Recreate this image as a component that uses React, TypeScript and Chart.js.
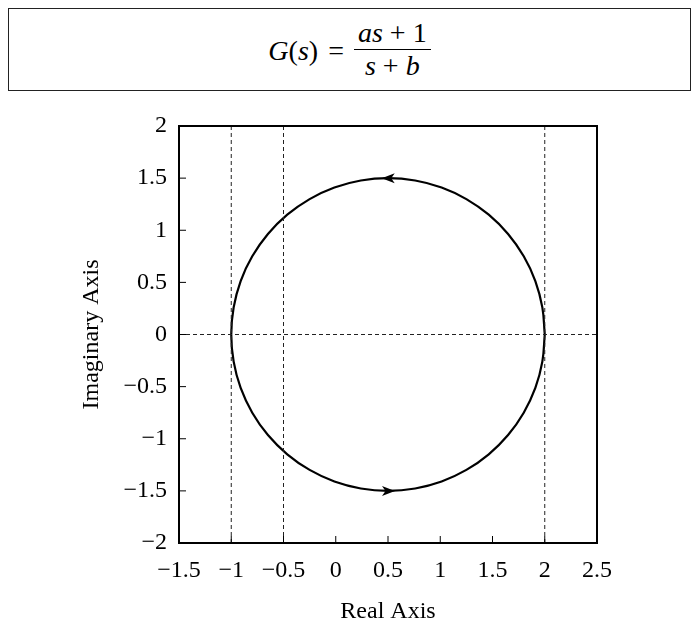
import React, { useEffect, useRef } from "react";
import { Chart, registerables } from "chart.js";
Chart.register(...registerables);

// Nyquist curve points (counter-clockwise from (2,0))
const circleX = [
  2.0, 1.977, 1.91, 1.799, 1.649, 1.464, 1.25, 1.013, 0.76, 0.5, 0.24, -0.013, -0.25, -0.464, -0.649, -0.799, -0.91, -0.977,
  -1.0, -0.977, -0.91, -0.799, -0.649, -0.464, -0.25, -0.013, 0.24, 0.5, 0.76, 1.013, 1.25, 1.464, 1.649, 1.799, 1.91, 1.977, 2.0,
];
const circleY = [
  0.0, 0.26, 0.513, 0.75, 0.964, 1.149, 1.299, 1.41, 1.477, 1.5, 1.477, 1.41, 1.299, 1.149, 0.964, 0.75, 0.513, 0.26,
  0.0, -0.26, -0.513, -0.75, -0.964, -1.149, -1.299, -1.41, -1.477, -1.5, -1.477, -1.41, -1.299, -1.149, -0.964, -0.75, -0.513, -0.26, 0.0,
];
const dashedVerticalX = [-1, -0.5, 2];
const dashedHorizontalY = [0];
const xTicks = [-1.5, -1, -0.5, 0, 0.5, 1, 1.5, 2, 2.5];
const yTicks = [-2, -1.5, -1, -0.5, 0, 0.5, 1, 1.5, 2];
const xRange = [-1.5, 2.5];
const yRange = [-2, 2];
const arrowX = [0.44, 0.567];
const arrowY = [1.5, -1.5];
const arrowDirection = [-1, 1];

const FONT = "'Liberation Serif', 'DejaVu Serif', serif";

const fmt = (v: number) => {
  const s = String(Math.abs(v));
  return v < 0 ? "\u2212" + s : s;
};

const framePlugin = {
  id: "frame",
  afterDatasetsDraw(chart: any) {
    const { ctx, chartArea: a, scales } = chart;
    ctx.save();
    ctx.strokeStyle = "#000";
    ctx.lineWidth = 1;
    // inward tick marks
    ctx.beginPath();
    xTicks.forEach((v) => {
      const px = scales.x.getPixelForValue(v);
      ctx.moveTo(px, a.bottom);
      ctx.lineTo(px, a.bottom - 7);
    });
    yTicks.forEach((v) => {
      const py = scales.y.getPixelForValue(v);
      ctx.moveTo(a.left, py);
      ctx.lineTo(a.left + 7, py);
    });
    ctx.stroke();
    // arrows
    ctx.fillStyle = "#000";
    arrowX.forEach((xv, i) => {
      const px = scales.x.getPixelForValue(xv);
      const py = scales.y.getPixelForValue(arrowY[i]);
      const d = arrowDirection[i];
      ctx.beginPath();
      ctx.moveTo(px, py);
      ctx.lineTo(px - d * 13, py - 5);
      ctx.lineTo(px - d * 9.5, py);
      ctx.lineTo(px - d * 13, py + 5);
      ctx.closePath();
      ctx.fill();
    });
    // frame
    ctx.lineWidth = 2;
    ctx.strokeRect(a.left, a.top, a.right - a.left, a.bottom - a.top);
    ctx.restore();
  },
};

export default function App() {
  const ref = useRef<HTMLCanvasElement>(null);
  useEffect(() => {
    if (!ref.current) return;
    const dashStyle = {
      borderColor: "#222",
      borderWidth: 1,
      borderDash: [4, 3],
      pointRadius: 0,
      showLine: true,
      fill: false,
    };
    const datasets: any[] = [];
    dashedVerticalX.forEach((xv) =>
      datasets.push({ ...dashStyle, data: [{ x: xv, y: yRange[0] }, { x: xv, y: yRange[1] }] })
    );
    dashedHorizontalY.forEach((yv) =>
      datasets.push({ ...dashStyle, data: [{ x: xRange[0], y: yv }, { x: xRange[1], y: yv }] })
    );
    datasets.push({
      data: circleX.map((x, i) => ({ x, y: circleY[i] })),
      borderColor: "#000",
      borderWidth: 2.2,
      pointRadius: 0,
      showLine: true,
      tension: 0.4,
      fill: false,
    });
    const chart = new Chart(ref.current, {
      type: "scatter",
      data: { datasets },
      plugins: [framePlugin],
      options: {
        animation: false,
        responsive: false,
        layout: { padding: { left: 0, right: 94, top: 35, bottom: 0 } },
        plugins: { legend: { display: false }, tooltip: { enabled: false } },
        scales: {
          x: {
            type: "linear",
            min: xRange[0],
            max: xRange[1],
            afterBuildTicks: (s: any) => {
              s.ticks = xTicks.map((v) => ({ value: v }));
            },
            afterFit: (s: any) => {
              s.height = 86;
            },
            grid: { display: false, drawTicks: false },
            border: { display: false },
            ticks: {
              color: "#000",
              font: { family: FONT, size: 24 },
              padding: 13,
              maxRotation: 0,
              autoSkip: false,
              callback: (v: any) => fmt(Number(v)),
            },
            title: {
              display: true,
              text: "Real Axis",
              color: "#000",
              font: { family: FONT, size: 24 },
              padding: { top: 0, bottom: 3 },
            },
          },
          y: {
            type: "linear",
            min: yRange[0],
            max: yRange[1],
            afterBuildTicks: (s: any) => {
              s.ticks = yTicks.map((v) => ({ value: v }));
            },
            afterFit: (s: any) => {
              s.width = 171;
            },
            grid: { display: false, drawTicks: false },
            border: { display: false },
            ticks: {
              color: "#000",
              font: { family: FONT, size: 24 },
              padding: 12,
              autoSkip: false,
              callback: (v: any) => fmt(Number(v)),
            },
            title: {
              display: true,
              text: "Imaginary Axis",
              color: "#000",
              font: { family: FONT, size: 24 },
              padding: { top: 69, bottom: 0 },
            },
          },
        },
      },
    });
    return () => chart.destroy();
  }, []);

  return (
    <div style={{ width: 683 }}>
      <div
        style={{
          boxSizing: "border-box",
          height: 83,
          border: "1.5px solid #222",
          display: "flex",
          alignItems: "center",
          justifyContent: "center",
          fontFamily: FONT,
          fontSize: 28,
          color: "#000",
        }}
      >
        <span style={{ whiteSpace: "pre", marginTop: 2 }}>
          <i>G</i>(<i>s</i>)
        </span>
        <span style={{ margin: "2px 10px 0 10px" }}>=</span>
        <span
          style={{
            display: "inline-flex",
            flexDirection: "column",
            alignItems: "center",
            lineHeight: "32px",
          }}
        >
          <span style={{ borderBottom: "1.8px solid #000", padding: "0 4px", whiteSpace: "pre" }}>
            <i>as</i> + 1
          </span>
          <span style={{ whiteSpace: "pre" }}>
            <i>s</i> + <i>b</i>
          </span>
        </span>
      </div>
      <canvas ref={ref} width={683} height={538} style={{ display: "block" }} />
    </div>
  );
}
